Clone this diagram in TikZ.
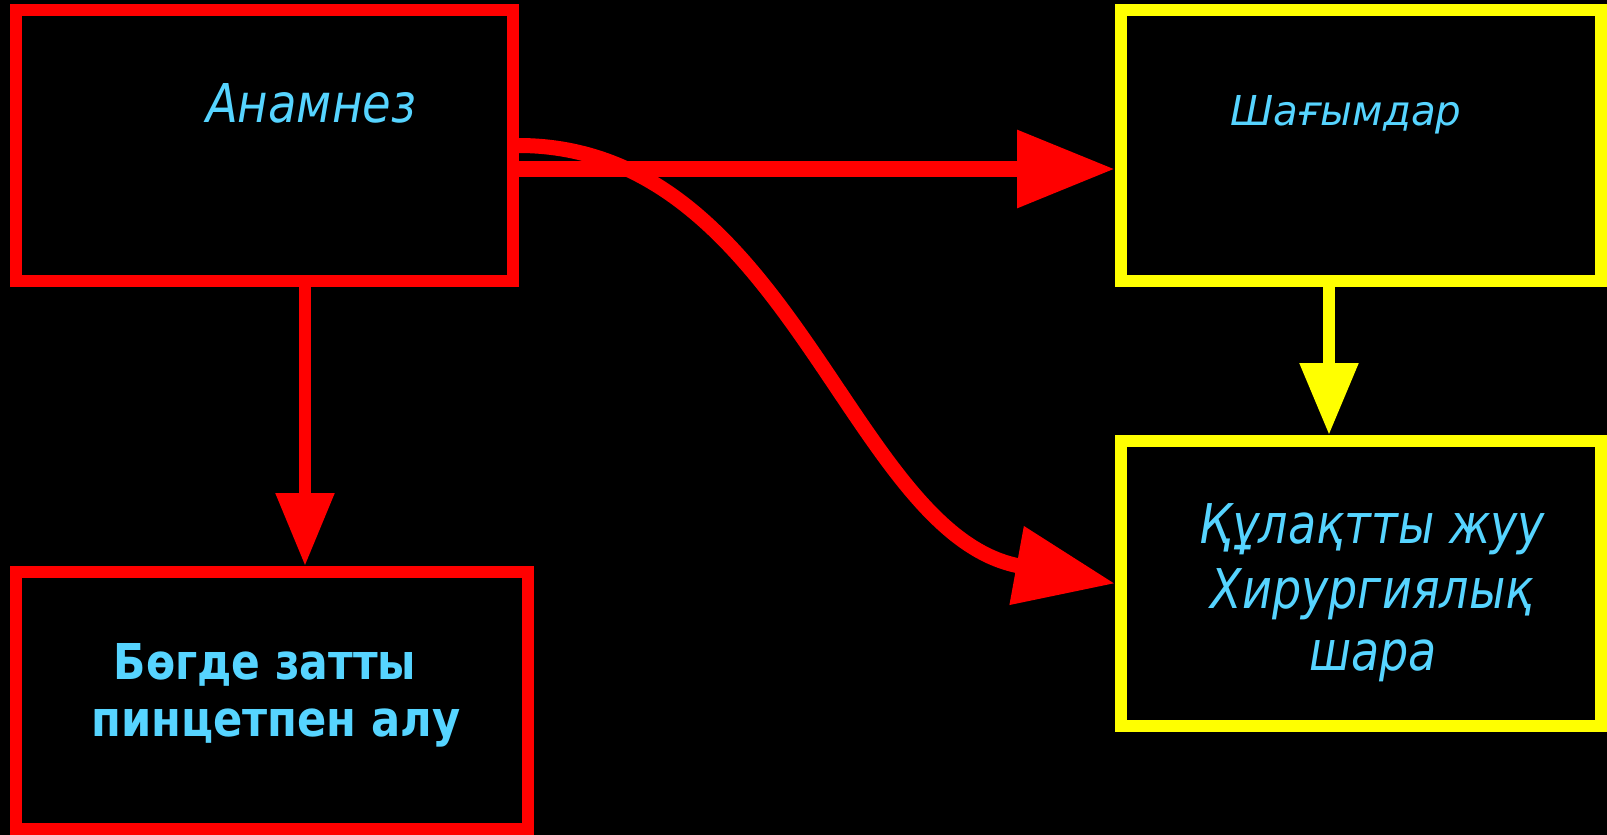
\documentclass[tikz,border=0pt]{standalone}
\usepackage{fontspec}
\setmainfont{DejaVu Sans}
\usetikzlibrary{arrows.meta,calc}
\definecolor{txt}{RGB}{86,212,255}
\definecolor{myred}{RGB}{255,0,0}
\definecolor{myyellow}{RGB}{255,255,0}
\newcommand{\narrow}[2]{\scalebox{#1}[1]{#2}}
\begin{document}
\begin{tikzpicture}[x=0.5pt,y=-0.5pt,
  box/.style={draw, line width=6pt, inner sep=0pt, rectangle},
  redbox/.style={box, draw=myred},
  yelbox/.style={box, draw=myyellow},
  lbl/.style={text=txt, anchor=base, inner sep=0pt},
  itl/.style={lbl, font=\fontsize{#1}{#1}\selectfont\itshape},
  bld/.style={lbl, font=\fontsize{#1}{#1}\selectfont\bfseries}]
\fill[black] (0,0) rectangle (1607,835);
\useasboundingbox (0,0) rectangle (1607,835);

\node[redbox, minimum width=248.5pt, minimum height=135.5pt] (anam) at (264.5,145.5) {};
\node[yelbox, minimum width=240pt, minimum height=135.5pt] (shag) at (1361,145.5) {};
\node[redbox, minimum width=256pt, minimum height=128.5pt] (bog) at (272,700.5) {};
\node[yelbox, minimum width=240pt, minimum height=142.5pt] (kul) at (1361,583.5) {};

% connectors
\draw[myred, line width=8pt, -{Triangle[length=49pt,width=37pt]}]
  ($(anam.east)+(0,23.5)$) -- ($(shag.west)+(0,23.5)$);
\draw[myred, line width=7.5pt, -{Triangle[length=50pt,width=38pt]}]
  (anam.east) .. controls (790,146) and (850,535) .. (kul.west);
\draw[myred, line width=6pt, -{Triangle[length=36.5pt,width=28pt]}]
  ($(anam.south)+(40.5,0)$) -- ($(bog.north)+(33,0)$);
\draw[myyellow, line width=6pt, -{Triangle[length=36pt,width=28pt]}]
  ($(shag.south)+(-32,0)$) -- ($(kul.north)+(-32,0)$);

% texts
\node[itl=26.75] (t1) at (311,122) {\narrow{0.87}{Анамнез}};
\node[itl=20.6] (t2) at (1346,125) {\narrow{0.98}{Шағымдар}};
\node[bld=24.7] (t3a) at (265,679) {\narrow{0.86}{Бөгде затты}};
\node[bld=24.7] (t3b) at (276,736) {\narrow{0.875}{пинцетпен алу}};
\node[itl=27.4] (t4a) at (1372,543) {\narrow{0.84}{Құлақтты жуу}};
\node[itl=27.4] (t4b) at (1372,608) {\narrow{0.84}{Хирургиялық}};
\node[itl=27.4] (t4c) at (1373,670) {\narrow{0.84}{шара}};
\end{tikzpicture}
\end{document}
